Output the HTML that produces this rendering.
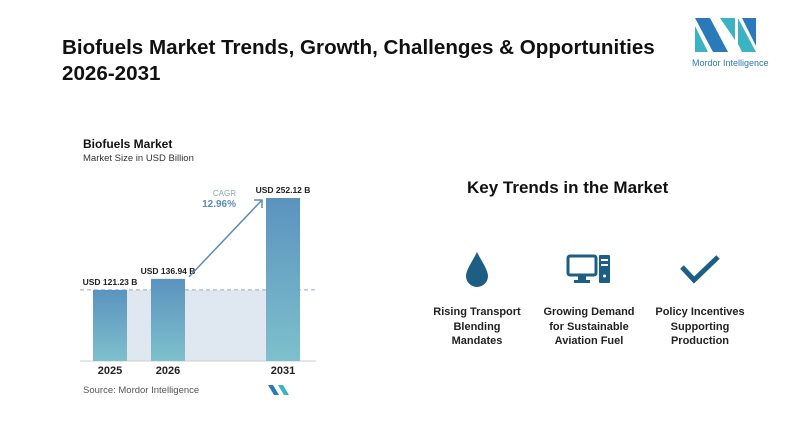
<!DOCTYPE html>
<html><head><meta charset="utf-8"><style>
body{margin:0;width:800px;height:439px;background:#fff;overflow:hidden;font-family:"Liberation Sans",sans-serif;position:relative}
.t{position:absolute;font-weight:bold;color:#111}
.trend{position:absolute;width:120px;text-align:center;font-weight:bold;font-size:11px;line-height:14.5px;color:#222;white-space:nowrap}
</style></head><body>
<div class="t" style="left:62px;top:35px;font-size:20.6px;line-height:26px">Biofuels Market Trends, Growth, Challenges &amp; Opportunities<br>2026-2031</div>
<svg style="position:absolute;left:690px;top:18px" width="80" height="52">
<polygon points="5,0 20,0 38,34 23,34" fill="#2a79b8"/><polygon points="5,8 5,34 18,34" fill="#3bb3c3"/>
<polygon points="30,0 45,0 45,22" fill="#3bb3c3"/><polygon points="48,0 66,34 66,34 52,34 48,26" fill="#3bb3c3"/><polygon points="52,0 66,0 66,28" fill="#2a79b8"/>
<text x="2" y="48" font-size="9" fill="#2a79b8" font-family="Liberation Sans">Mordor Intelligence</text></svg>
<div class="t" style="left:83px;top:137px;font-size:12px">Biofuels Market</div>
<div style="position:absolute;left:83px;top:153px;font-size:9.5px;color:#333">Market Size in USD Billion</div>
<svg id="chart" style="position:absolute;left:0;top:0" width="400" height="439"></svg>
<div style="position:absolute;left:83px;top:385px;font-size:9.5px;color:#555">Source: Mordor Intelligence</div>
<svg style="position:absolute;left:268px;top:385px" width="22" height="10"><polygon points="0,0 5,0 11,10 6,10" fill="#2a79b8"/><polygon points="10,0 15,0 21,10 16,10" fill="#3bb3c3"/></svg>
<div class="t" style="left:467px;top:178px;font-size:17px">Key Trends in the Market</div>
<svg style="position:absolute;left:462px;top:250px" width="30" height="38"><path d="M15,2 C10,12 4,20 4,26 A11,11 0 0 0 26,26 C26,20 20,12 15,2Z" fill="#1d5e85"/></svg>
<svg style="position:absolute;left:566px;top:254px" width="46" height="30"><rect x="2" y="2" width="28" height="19" rx="2" fill="none" stroke="#1d5e85" stroke-width="3"/><rect x="12" y="22" width="8" height="4" fill="#1d5e85"/><rect x="8" y="26" width="16" height="3" fill="#1d5e85"/><rect x="33" y="1" width="11" height="28" rx="1" fill="#1d5e85"/><rect x="35" y="5" width="7" height="2" fill="#fff"/><rect x="35" y="10" width="7" height="2" fill="#fff"/><circle cx="38.5" cy="22" r="1.5" fill="#fff"/></svg>
<svg style="position:absolute;left:678px;top:253px" width="44" height="32"><polyline points="4,14 16,27 40,4" fill="none" stroke="#1d5e85" stroke-width="5"/></svg>
<div class="trend" style="left:417px;top:305px">Rising Transport<br>Blending<br>Mandates</div>
<div class="trend" style="left:529px;top:305px">Growing Demand<br>for Sustainable<br>Aviation Fuel</div>
<div class="trend" style="left:640px;top:305px">Policy Incentives<br>Supporting<br>Production</div>
<script>
const categories=["2025","2026","2031"];
const values=[121.23,136.94,252.12];
const valueLabels=["USD 121.23 B","USD 136.94 B","USD 252.12 B"];
const cagrLabel="12.96%";
const svg=document.getElementById('chart');
const NS="http://www.w3.org/2000/svg";
const base=361,h=163,dmin=20,dmax=252.12;
const y=v=>base-(v-dmin)/(dmax-dmin)*h;
const xPos=[93,151,266],bw=34;
function mk(t,a){const e=document.createElementNS(NS,t);for(const k in a)e.setAttribute(k,a[k]);svg.appendChild(e);return e;}
const defs=mk('defs',{});defs.innerHTML='<linearGradient id="g" x1="0" y1="0" x2="0" y2="1"><stop offset="0" stop-color="#5b93bf"/><stop offset="1" stop-color="#7ec0cc"/></linearGradient>';
const y0=y(values[0]);
const shade=mk('rect',{x:xPos[0]+bw,y:y0,width:xPos[2]-xPos[0]-bw,height:base-y0,fill:'#dfe7f0'});

const dl=mk('line',{x1:80,x2:316,y1:y0,y2:y0,stroke:'#9ab',"stroke-dasharray":'4,3'});

const ax=mk('line',{x1:80,x2:316,y1:base,y2:base,stroke:'#ccc'});

values.forEach((v,i)=>{
 const r=mk('rect',{x:xPos[i],y:y(v),width:bw,height:base-y(v),fill:'url(#g)'});
 
 const l=mk('text',{x:xPos[i]+bw/2,y:y(v)-5,"text-anchor":'middle',"font-size":'8.5',"font-weight":'bold',fill:'#222'});l.textContent=valueLabels[i];
 
 const c=mk('text',{x:xPos[i]+bw/2,y:base+13,"text-anchor":'middle',"font-size":'11',"font-weight":'bold',fill:'#222'});c.textContent=categories[i];
 
});
const ar=mk('line',{x1:xPos[1]+bw+4,y1:y(values[1])-2,x2:xPos[2]-4,y2:y(values[2])+2,stroke:'#5b8db8',"stroke-width":'1.5'});

const ah=mk('polyline',{points:`${xPos[2]-12},${y(values[2])+2} ${xPos[2]-4},${y(values[2])+2} ${xPos[2]-4},${y(values[2])+10}`,fill:'none',stroke:'#5b8db8',"stroke-width":'1.5'});

const t1=mk('text',{x:236,y:196,"text-anchor":'end',"font-size":'8',fill:'#8aa'});t1.textContent='CAGR';

const t2=mk('text',{x:236,y:207,"text-anchor":'end',"font-size":'10',"font-weight":'bold',fill:'#5b8db8'});t2.textContent=cagrLabel;

</script>
</body></html>
